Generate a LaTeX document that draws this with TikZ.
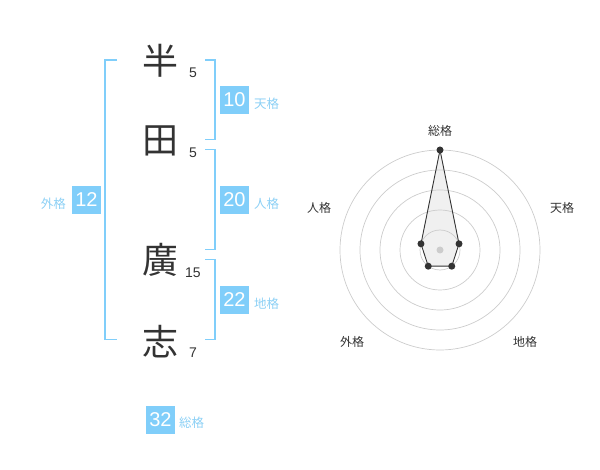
\documentclass[tikz,border=0pt]{standalone}
\usetikzlibrary{calc}
\usepackage{fontspec}
\setmainfont{Liberation Sans}
\newfontfamily\jp{Noto Sans CJK JP}
\definecolor{sky}{RGB}{128,206,250}
\definecolor{skytxt}{RGB}{140,208,245}
\definecolor{ink}{RGB}{51,51,51}
\definecolor{ring}{RGB}{204,204,204}
\definecolor{polyfill}{RGB}{240,240,240}
\begin{document}
\begin{tikzpicture}[x=1pt,y=-1pt,
  kanji/.style={font=\jp\fontsize{36}{36}\selectfont,text=ink,inner sep=0pt},
  strokes/.style={font=\fontsize{14}{14}\selectfont,text=ink,inner sep=0pt},
  numbox/.style={fill=sky,text=white,minimum width=29pt,minimum height=28pt,inner sep=0pt,font=\fontsize{20}{20}\selectfont},
  kaku/.style={font=\jp\fontsize{12.5}{12.5}\selectfont,text=skytxt,inner sep=0pt},
  bracket/.style={draw=sky,line width=1.3pt},
  rlabel/.style={font=\jp\fontsize{12}{12}\selectfont,text=ink,inner sep=0pt},
  dot/.style={circle,fill=ink,inner sep=0pt,minimum size=7pt},
]
\useasboundingbox (0,0) rectangle (600,470);
% characters
\node[kanji] (c1) at (160,61) {半};
\node[kanji] (c2) at (160,141) {田};
\node[kanji] (c3) at (160,260) {廣};
\node[kanji] (c4) at (160,342) {志};
\node[strokes] (s1) at (193,72.5) {5};
\node[strokes] (s2) at (193,152.5) {5};
\node[strokes] (s3) at (193,272.5) {15};
\node[strokes] (s4) at (193,352.5) {7};
% brackets
\draw[bracket] (117,60) -- (105,60) -- (105,339.5) -- (117,339.5);
\draw[bracket] (205,60) -- (215,60) -- (215,139.5) -- (205,139.5);
\draw[bracket] (205,149.5) -- (215,149.5) -- (215,249.5) -- (205,249.5);
\draw[bracket] (205,259.5) -- (215,259.5) -- (215,339.5) -- (205,339.5);
% boxes
\node[numbox] (ten) at (234.5,100) {10};
\node[kaku,anchor=west] (tenl) at (254,104) {天格};
\node[numbox] (jin) at (234.5,200) {20};
\node[kaku,anchor=west] (jinl) at (254,204) {人格};
\node[numbox] (chi) at (234.5,300) {22};
\node[kaku,anchor=west] (chil) at (254,304) {地格};
\node[numbox] (gai) at (86.5,200) {12};
\node[kaku,anchor=east] (gail) at (66,204) {外格};
\node[numbox] (sou) at (160.5,419.5) {32};
\node[kaku,anchor=west] (soul) at (179,423) {総格};
% radar
\coordinate (O) at (440,250);
\coordinate (pS) at ($(O)+(-90:100)$);
\coordinate (pT) at ($(O)+(-18:20)$);
\coordinate (pC) at ($(O)+(54:20)$);
\coordinate (pG) at ($(O)+(126:20)$);
\coordinate (pJ) at ($(O)+(198:20)$);
\fill[polyfill] (pS) -- (pT) -- (pC) -- (pG) -- (pJ) -- cycle;
\foreach \r in {20,40,60,80,100} \draw[ring,line width=0.7pt] (O) circle (\r);
\node[circle,fill=ring,inner sep=0pt,minimum size=7pt] (center) at (O) {};
\draw[draw=ink,line width=0.9pt] (pS) -- (pT) -- (pC) -- (pG) -- (pJ) -- cycle;
\foreach \p in {pS,pT,pC,pG,pJ} \node[dot] at (\p) {};
\node[rlabel] (lS) at (440,130.5) {総格};
\node[rlabel] (lT) at (562,208) {天格};
\node[rlabel] (lJ) at (319,208) {人格};
\node[rlabel] (lG) at (352,342) {外格};
\node[rlabel] (lC) at (525,342) {地格};
\end{tikzpicture}
\end{document}
